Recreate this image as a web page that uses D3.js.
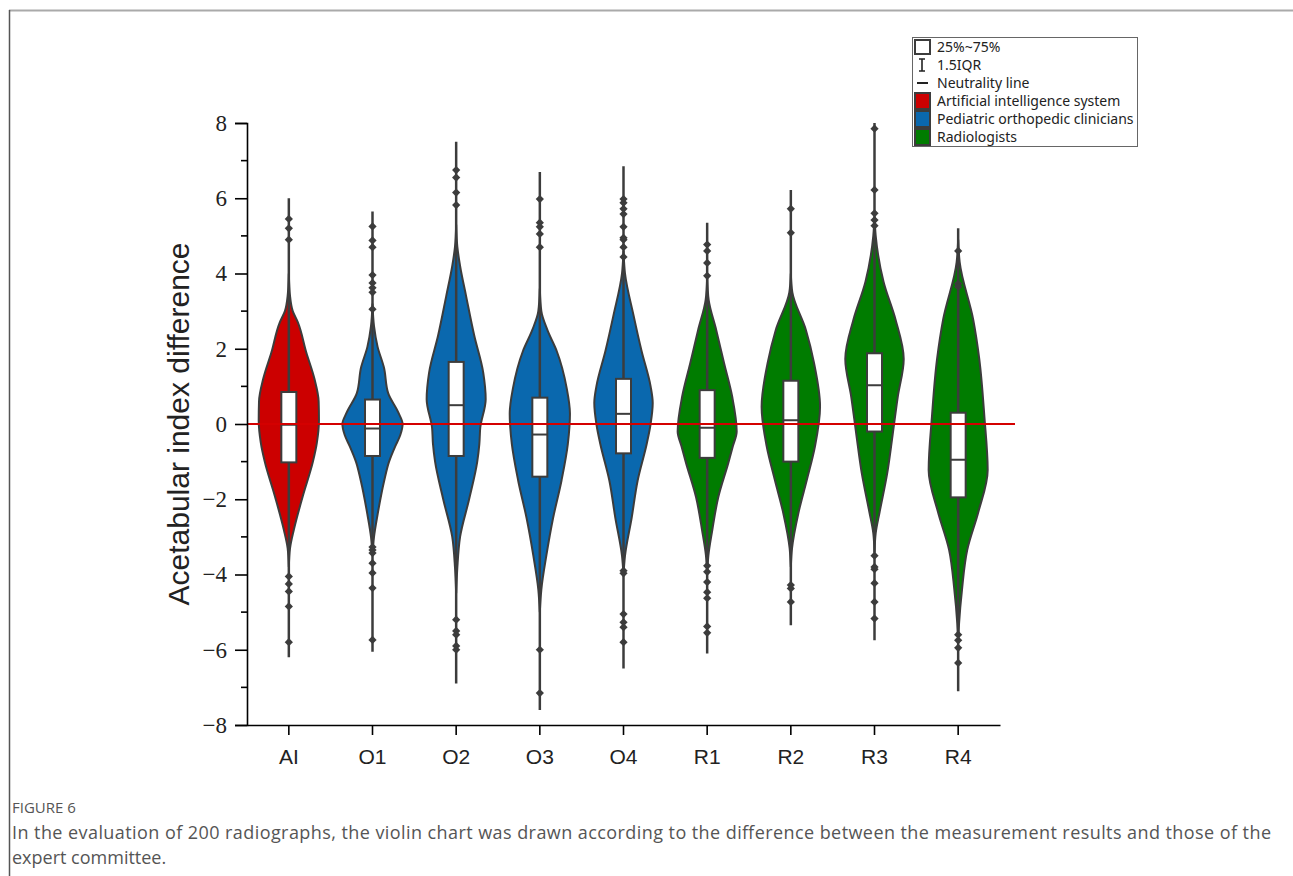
<!DOCTYPE html>
<html>
<head>
<meta charset="utf-8">
<script src="https://cdn.jsdelivr.net/npm/d3@7"></script>
<style>
  body { margin: 0; background: #fff; }
  svg { display: block; }
</style>
</head>
<body>
<div id="chart"></div>
<script>
// groups on the x axis and which reader group each belongs to
const groups = ["AI", "O1", "O2", "O3", "O4", "R1", "R2", "R3", "R4"];
const kinds = ["Artificial intelligence system", "Pediatric orthopedic clinicians", "Pediatric orthopedic clinicians",
  "Pediatric orthopedic clinicians", "Pediatric orthopedic clinicians", "Radiologists", "Radiologists", "Radiologists", "Radiologists"];
const kindNames = ["Artificial intelligence system", "Pediatric orthopedic clinicians", "Radiologists"];

// box stats
const q3 = [0.85, 0.65, 1.65, 0.7, 1.2, 0.9, 1.15, 1.88, 0.3];
const median = [-0.02, -0.12, 0.5, -0.28, 0.27, -0.1, 0.1, 1.03, -0.95];
const q1 = [-1.02, -0.85, -0.85, -1.4, -0.78, -0.9, -1.0, -0.2, -1.95];
const lineLow = [-6.2, -6.05, -6.9, -7.6, -6.5, -6.1, -5.35, -5.75, -7.1];
const lineHigh = [6.0, 5.65, 7.5, 6.7, 6.85, 5.35, 6.22, 8.0, 5.2];

const outliers = [
  [5.45, 5.2, 4.9, -4.05, -4.25, -4.45, -4.85, -5.8],
  [5.25, 4.88, 4.7, 3.96, 3.75, 3.62, 3.5, 3.05, -3.27, -3.35, -3.43, -3.7, -3.96, -4.36, -5.74],
  [6.75, 6.55, 6.15, 5.82, -5.2, -5.5, -5.6, -5.9, -6.0],
  [5.98, 5.35, 5.24, 5.05, 4.7, -6.0, -7.15],
  [5.98, 5.88, 5.72, 5.58, 5.24, 4.95, 4.9, 4.7, 4.44, -3.9, -3.97, -5.05, -5.27, -5.4, -5.8],
  [4.77, 4.6, 4.28, 3.94, -3.77, -3.93, -4.2, -4.47, -4.63, -5.38, -5.55],
  [5.72, 5.08, -4.28, -4.37, -4.73],
  [7.85, 6.22, 5.6, 5.42, 5.27, -3.5, -3.8, -3.86, -4.23, -4.73, -5.17],
  [4.6, 3.73, 3.65, -5.6, -5.75, -5.95, -6.35]
];

// violin outline: [value, relative half width]
const density = [
  [[4.0, 0], [3.4, 0.04], [3.0, 0.13], [2.7, 0.3], [1.9, 0.58], [1.2, 0.85], [0.6, 0.99], [0.1, 1.0], [-0.5, 0.93], [-1.0, 0.8], [-1.9, 0.47], [-2.8, 0.17], [-3.3, 0.04], [-3.8, 0]],
  [[3.2, 0], [2.6, 0.05], [2.05, 0.17], [1.5, 0.38], [0.82, 0.52], [0.3, 0.86], [0, 1.0], [-0.3, 0.92], [-0.6, 0.75], [-1.0, 0.55], [-1.5, 0.39], [-2.4, 0.17], [-3.0, 0.05], [-3.5, 0]],
  [[5.3, 0], [4.7, 0.04], [4.2, 0.13], [3.4, 0.33], [2.35, 0.6], [1.36, 0.9], [0.66, 0.98], [-0.1, 0.8], [-0.53, 0.77], [-1.0, 0.7], [-2.0, 0.43], [-3.0, 0.13], [-3.8, 0.04], [-4.5, 0]],
  [[3.6, 0], [3.0, 0.05], [2.5, 0.25], [1.94, 0.56], [0.96, 0.89], [0.27, 1.0], [-0.53, 0.93], [-1.5, 0.72], [-2.5, 0.44], [-3.48, 0.22], [-4.4, 0.05], [-5.0, 0]],
  [[4.6, 0], [4.0, 0.05], [2.9, 0.33], [1.94, 0.6], [1.0, 0.9], [0.56, 0.97], [0, 0.9], [-0.53, 0.77], [-1.5, 0.47], [-2.5, 0.27], [-3.5, 0.05], [-4.0, 0]],
  [[3.9, 0], [3.3, 0.05], [2.5, 0.3], [1.62, 0.56], [0.73, 0.83], [-0.2, 0.98], [-0.6, 0.85], [-1.04, 0.7], [-1.94, 0.37], [-2.82, 0.17], [-3.5, 0.04], [-4.0, 0]],
  [[4.0, 0], [3.5, 0.05], [2.5, 0.5], [1.62, 0.77], [0.46, 0.97], [-0.6, 0.8], [-1.49, 0.53], [-2.37, 0.25], [-3.3, 0.04], [-3.8, 0]],
  [[5.5, 0], [5.0, 0.04], [3.78, 0.3], [2.77, 0.7], [1.73, 0.97], [0.71, 0.77], [-0.3, 0.6], [-1.32, 0.42], [-2.34, 0.17], [-2.9, 0.04], [-3.4, 0]],
  [[4.9, 0], [4.3, 0.05], [2.77, 0.5], [1.73, 0.7], [0.2, 0.87], [-1.22, 0.98], [-2.34, 0.67], [-3.35, 0.3], [-4.38, 0.13], [-5.3, 0.03], [-5.8, 0]]
];

const yTicks = [-8, -6, -4, -2, 0, 2, 4, 6, 8];
const yMinorTicks = [-7, -5, -3, -1, 1, 3, 5, 7];

const W = 1293, H = 876;
const ink = "#3c3c3c";

const svg = d3.select("#chart").append("svg")
  .attr("width", W)
  .attr("height", H);

// page frame
svg.append("line").attr("x1", 9).attr("x2", W).attr("y1", 10.5).attr("y2", 10.5)
  .attr("stroke", "#aaa").attr("stroke-width", 2);
svg.append("line").attr("x1", 9.5).attr("x2", 9.5).attr("y1", 10).attr("y2", H)
  .attr("stroke", "#555").attr("stroke-width", 1.5);

const x = d3.scaleBand().domain(groups).range([247, 1000]).padding(0);
const y = d3.scaleLinear().domain([-8, 8]).range([725, 123]);
const color = d3.scaleOrdinal().domain(kindNames).range(["#cc0000", "#0a68ae", "#007c00"]);
const halfW = x.bandwidth() * 0.36;
const w = d3.scaleLinear().domain([0, 1]).range([0, halfW]);

const plot = svg.append("g");

// violins
groups.forEach((g, i) => {
  const cx = x(g) + x.bandwidth() / 2;
  const area = d3.area()
    .y((d) => y(d[0]))
    .x0((d) => cx - w(d[1]))
    .x1((d) => cx + w(d[1]))
    .curve(d3.curveMonotoneY);

  plot.append("path")
    .attr("d", area(density[i]))
    .attr("fill", color(kinds[i]))
    .attr("stroke", ink)
    .attr("stroke-width", 2);

  plot.append("line")
    .attr("x1", cx).attr("x2", cx)
    .attr("y1", y(lineLow[i])).attr("y2", y(lineHigh[i]))
    .attr("stroke", ink).attr("stroke-width", 2.5);

  plot.selectAll(null)
    .data(outliers[i])
    .enter()
    .append("path")
    .attr("d", d3.symbol().type(d3.symbolSquare).size(34))
    .attr("transform", (d) => `translate(${cx},${y(d)}) rotate(45)`)
    .attr("fill", ink);

  plot.append("rect")
    .attr("x", cx - 7.5).attr("width", 15)
    .attr("y", y(q3[i])).attr("height", y(q1[i]) - y(q3[i]))
    .attr("fill", "#fff").attr("stroke", ink).attr("stroke-width", 2);

  plot.append("line")
    .attr("x1", cx - 7.5).attr("x2", cx + 7.5)
    .attr("y1", y(median[i])).attr("y2", y(median[i]))
    .attr("stroke", ink).attr("stroke-width", 2);
});

// neutrality line
plot.append("line")
  .attr("x1", 247).attr("x2", 1015)
  .attr("y1", y(0)).attr("y2", y(0))
  .attr("stroke", "#d40000").attr("stroke-width", 2);

// y axis
const yAxis = svg.append("g")
  .attr("transform", "translate(247,0)")
  .call(d3.axisLeft(y).tickValues(yTicks).tickSize(12).tickPadding(8)
    .tickFormat((d) => d < 0 ? "\u2212" + Math.abs(d) : d));
yAxis.select(".domain").attr("stroke", "#000").attr("stroke-width", 1.6);
yAxis.selectAll(".tick line").attr("stroke", "#000").attr("stroke-width", 1.6);
yAxis.selectAll(".tick text")
  .attr("fill", "#222")
  .style("font-family", "'Liberation Serif', 'Times New Roman', serif")
  .style("font-size", "23px");
yAxis.selectAll(".minor")
  .data(yMinorTicks)
  .enter()
  .append("line")
  .attr("class", "minor")
  .attr("x1", -6).attr("x2", 0)
  .attr("y1", (d) => y(d)).attr("y2", (d) => y(d))
  .attr("stroke", "#000").attr("stroke-width", 1.6);

// x axis
const xAxis = svg.append("g")
  .attr("transform", "translate(0,725)")
  .call(d3.axisBottom(x).tickSize(10).tickPadding(14).tickSizeOuter(0));
xAxis.select(".domain").attr("stroke", "#000").attr("stroke-width", 1.6);
xAxis.selectAll(".tick line").attr("stroke", "#000").attr("stroke-width", 1.6);
xAxis.selectAll(".tick text")
  .attr("fill", "#222")
  .style("font-family", "'Liberation Sans', Arial, sans-serif")
  .style("font-size", "21px");

svg.append("text")
  .attr("transform", `translate(189,${y(0)}) rotate(-90)`)
  .attr("text-anchor", "middle")
  .attr("fill", "#222")
  .style("font-family", "'Liberation Sans', Arial, sans-serif")
  .style("font-size", "30px")
  .text("Acetabular index difference");

// legend
const legend = svg.append("g").attr("transform", "translate(912,37)");
legend.append("rect")
  .attr("x", 0.5).attr("y", 0.5).attr("width", 225).attr("height", 109)
  .attr("fill", "#fff").attr("stroke", "#666").attr("stroke-width", 1);

const legendFont = (sel) => sel
  .attr("fill", "#222")
  .style("font-family", "'Noto Sans', 'Liberation Sans', sans-serif")
  .style("font-size", "14px");

const rowY = (k) => 10 + k * 18;

legend.append("rect").attr("x", 3).attr("y", 3).attr("width", 15).attr("height", 14)
  .attr("fill", "#fff").attr("stroke", ink).attr("stroke-width", 2);
legend.append("path")
  .attr("d", `M7,${rowY(1) - 6}H13M10,${rowY(1) - 6}V${rowY(1) + 6}M7,${rowY(1) + 6}H13`)
  .attr("stroke", "#222").attr("stroke-width", 1.6).attr("fill", "none");
legend.append("line").attr("x1", 5).attr("x2", 16).attr("y1", rowY(2)).attr("y2", rowY(2))
  .attr("stroke", "#222").attr("stroke-width", 2);

kindNames.forEach((k, i) => {
  legend.append("rect")
    .attr("x", 3).attr("y", rowY(3 + i) - 8).attr("width", 15).attr("height", 16)
    .attr("fill", color(k)).attr("stroke", ink).attr("stroke-width", 2);
});

const legendLabels = ["25%~75%", "1.5IQR", "Neutrality line"].concat(kindNames);
legend.selectAll(".lab")
  .data(legendLabels)
  .enter()
  .append("text")
  .attr("class", "lab")
  .attr("x", 25)
  .attr("y", (d, i) => rowY(i))
  .attr("dy", "0.35em")
  .call(legendFont)
  .text((d) => d);

// caption
svg.append("text")
  .attr("x", 12).attr("y", 813)
  .attr("fill", "#555")
  .style("font-family", "'Open Sans', 'Noto Sans', sans-serif")
  .style("font-size", "15px")
  .text("FIGURE 6");

const capFont = (sel) => sel
  .attr("fill", "#555")
  .style("font-family", "'Open Sans', 'Noto Sans', sans-serif")
  .style("font-size", "18px");

svg.append("text")
  .attr("x", 12).attr("y", 839)
  .attr("textLength", 1259).attr("lengthAdjust", "spacing")
  .call(capFont)
  .text("In the evaluation of 200 radiographs, the violin chart was drawn according to the difference between the measurement results and those of the");
svg.append("text")
  .attr("x", 12).attr("y", 864)
  .call(capFont)
  .text("expert committee.");
</script>
</body>
</html>
